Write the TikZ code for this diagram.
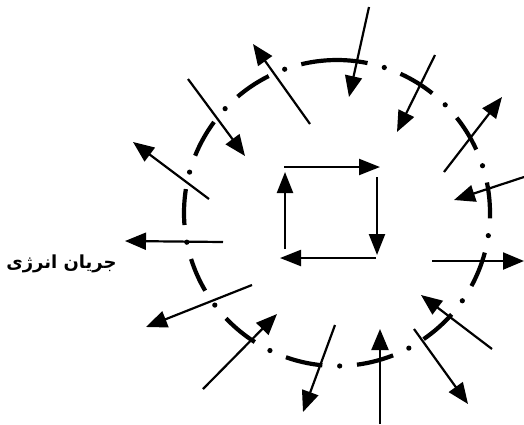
\documentclass[tikz,border=0pt]{standalone}
\usepackage{fontspec}
\newfontfamily\arabicfont[Script=Arabic]{DejaVu Sans}
\TeXXeTstate=1
\usetikzlibrary{arrows.meta}
\begin{document}
\begin{tikzpicture}[x=1pt,y=-1pt,
  flow/.style={line width=2.2pt,-{Triangle[length=21pt,width=17pt]}},
  cyc/.style={line width=2.2pt,-{Triangle[length=21pt,width=16pt]}},
  ring/.style={line width=4.2pt},
  label/.style={font=\arabicfont\bfseries\fontsize{18}{20}\selectfont,inner sep=0pt}]
\useasboundingbox (0,0) rectangle (524,424);
\coordinate (c) at (337,213);
% dash-dot ring
\begin{scope}[shift={(c)},y=1pt]
\foreach \a/\b in {-8.5/18,18/45,45/72,72/110,110/137,137/164.5,164.5/191,191/217,217/244,244/271,271/298,298/325,325/351.5}{
  \draw[ring] (\a+6.5:153) arc[start angle=\a+6.5, end angle=\b-6.5, radius=153];
  \fill (\a:153) circle[radius=2.6];
}
\end{scope}
% radial arrows: tail / head
\foreach \i/\tx/\ty/\hx/\hy in {
  1/369/7/349/97,
  2/310/124/253/44,
  3/188/79/245/156,
  4/209/199/133/142,
  5/223/242/125/241,
  6/252/285/146/327,
  7/203/389/277/314,
  8/335/325/303/412,
  9/380/424/380/329,
  10/414/329/468/404,
  11/492/349/421/295,
  12/432/261/524/261,
  13/524/177/454/200,
  14/444/172/502/97,
  15/435/55/397/132}{
  \coordinate (t\i) at (\tx,\ty);
  \coordinate (h\i) at (\hx,\hy);
  \draw[flow] (t\i) -- (h\i);
}
% inner cycle
\coordinate (s1) at (284,167);
\coordinate (s2) at (380,167);
\coordinate (s3) at (377,177);
\coordinate (s4) at (377,255);
\coordinate (s5) at (376,258);
\coordinate (s6) at (280,258);
\coordinate (s7) at (285,249);
\coordinate (s8) at (285,172);
\draw[cyc] (s1) -- (s2);
\draw[cyc] (s3) -- (s4);
\draw[cyc] (s5) -- (s6);
\draw[cyc] (s7) -- (s8);
\node[label] (lbl) at (61.5,264) {\beginR جریان انرژی\endR};
\end{tikzpicture}
\end{document}
